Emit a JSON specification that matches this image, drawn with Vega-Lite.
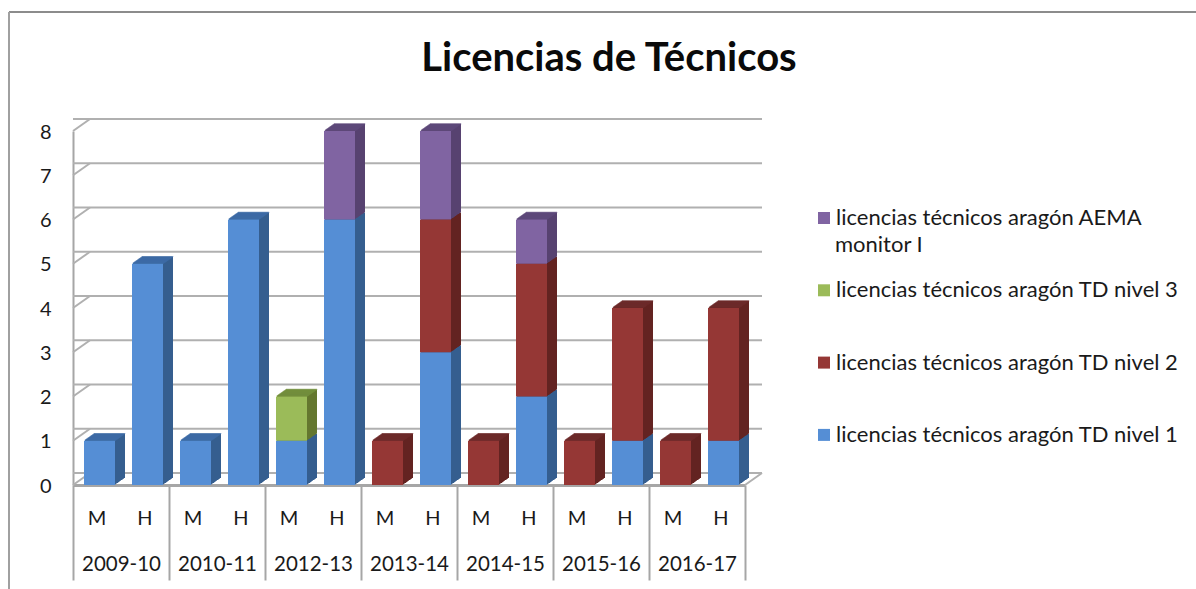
{"$schema":"https://vega.github.io/schema/vega-lite/v6.json","width":672,"height":354,"autosize":"none","padding":{"left":73,"top":131,"right":451,"bottom":104},"background":"white","config":{"view":{"stroke":null},"font":"Lato"},
"title":{"text":"Licencias de Técnicos","font":"Lato","fontSize":40,"fontWeight":"bold","color":"#0a0a0a","anchor":"middle","frame":"group","dx":200,"offset":-68},
"data":{"name":"main","values":[
{"columna":"01 M","curso":"2009-10","serie":"licencias técnicos aragón TD nivel 1","orden":1,"valor":1},
{"columna":"02 H","curso":"2009-10","serie":"licencias técnicos aragón TD nivel 1","orden":1,"valor":5},
{"columna":"03 M","curso":"2010-11","serie":"licencias técnicos aragón TD nivel 1","orden":1,"valor":1},
{"columna":"04 H","curso":"2010-11","serie":"licencias técnicos aragón TD nivel 1","orden":1,"valor":6},
{"columna":"05 M","curso":"2012-13","serie":"licencias técnicos aragón TD nivel 1","orden":1,"valor":1},
{"columna":"05 M","curso":"2012-13","serie":"licencias técnicos aragón TD nivel 3","orden":3,"valor":1},
{"columna":"06 H","curso":"2012-13","serie":"licencias técnicos aragón TD nivel 1","orden":1,"valor":6},
{"columna":"06 H","curso":"2012-13","serie":"licencias técnicos aragón AEMA monitor I","orden":4,"valor":2},
{"columna":"07 M","curso":"2013-14","serie":"licencias técnicos aragón TD nivel 2","orden":2,"valor":1},
{"columna":"08 H","curso":"2013-14","serie":"licencias técnicos aragón TD nivel 1","orden":1,"valor":3},
{"columna":"08 H","curso":"2013-14","serie":"licencias técnicos aragón TD nivel 2","orden":2,"valor":3},
{"columna":"08 H","curso":"2013-14","serie":"licencias técnicos aragón AEMA monitor I","orden":4,"valor":2},
{"columna":"09 M","curso":"2014-15","serie":"licencias técnicos aragón TD nivel 2","orden":2,"valor":1},
{"columna":"10 H","curso":"2014-15","serie":"licencias técnicos aragón TD nivel 1","orden":1,"valor":2},
{"columna":"10 H","curso":"2014-15","serie":"licencias técnicos aragón TD nivel 2","orden":2,"valor":3},
{"columna":"10 H","curso":"2014-15","serie":"licencias técnicos aragón AEMA monitor I","orden":4,"valor":1},
{"columna":"11 M","curso":"2015-16","serie":"licencias técnicos aragón TD nivel 2","orden":2,"valor":1},
{"columna":"12 H","curso":"2015-16","serie":"licencias técnicos aragón TD nivel 1","orden":1,"valor":1},
{"columna":"12 H","curso":"2015-16","serie":"licencias técnicos aragón TD nivel 2","orden":2,"valor":3},
{"columna":"13 M","curso":"2016-17","serie":"licencias técnicos aragón TD nivel 2","orden":2,"valor":1},
{"columna":"14 H","curso":"2016-17","serie":"licencias técnicos aragón TD nivel 1","orden":1,"valor":1},
{"columna":"14 H","curso":"2016-17","serie":"licencias técnicos aragón TD nivel 2","orden":2,"valor":3}
]},
"transform":[{"stack":"valor","groupby":["columna"],"sort":[{"field":"orden","order":"ascending"}],"as":["y0","y1"]},{"joinaggregate":[{"op":"max","field":"y1","as":"cima"}],"groupby":["columna"]}],
"resolve":{"scale":{"x":"independent"},"axis":{"x":"independent"}},
"layer":[
{"mark":{"type":"rule","opacity":0},"encoding":{"x":{"field":"curso","type":"nominal","scale":{"paddingInner":0,"paddingOuter":0},"axis":{"title":null,"orient":"bottom","tickBand":"extent","tickSize":95,"tickColor":"#a6a6a6","tickWidth":2,"domain":false,"labelPadding":-26,"labelAngle":0,"labelAlign":"center","labelFontSize":20.5,"labelColor":"#1a1a1a","labelBaseline":"top"}}}},
{"layer":[
{"data":{"values":[{"v":0},{"v":1},{"v":2},{"v":3},{"v":4},{"v":5},{"v":6},{"v":7},{"v":8}]},"transform":[],"mark":{"type":"rule","color":"#b0b0b0","strokeWidth":2,"xOffset":17,"yOffset":-12,"x2Offset":17,"y2Offset":-12},"encoding":{"y":{"field":"v","type":"quantitative","scale":{"domain":[0,8]},"axis":{"title":null,"values":[0,1,2,3,4,5,6,7,8],"format":"d","grid":false,"domainColor":"#a6a6a6","domainWidth":2,"tickSize":0,"labelPadding":22,"labelOffset":1,"labelFontSize":20,"labelColor":"#1a1a1a"}}}},
{"data":{"values":[{"v":0},{"v":1},{"v":2},{"v":3},{"v":4},{"v":5},{"v":6},{"v":7},{"v":8}]},"transform":[],"mark":{"type":"rule","color":"#b0b0b0","strokeWidth":2,"x2Offset":-7,"y2Offset":-12},"encoding":{"x":{"datum":"01 M","type":"nominal","bandPosition":0},"x2":{"datum":"01 M"},"y":{"field":"v","type":"quantitative"},"y2":{"field":"v"}}},
{"data":{"values":[{"v":0}]},"transform":[],"mark":{"type":"rule","color":"#b0b0b0","strokeWidth":2,"x2Offset":41,"y2Offset":-12},"encoding":{"x":{"datum":"14 H","type":"nominal","bandPosition":1},"x2":{"datum":"14 H"},"y":{"field":"v","type":"quantitative"},"y2":{"field":"v"}}},
{"data":{"values":[{"v":8}]},"transform":[],"mark":{"type":"rule","color":"#8c8c8c","strokeWidth":2,"xOffset":-64,"x2Offset":475,"yOffset":-119,"y2Offset":-119},"encoding":{"x":{"datum":"01 M","type":"nominal","bandPosition":0},"x2":{"datum":"14 H"},"y":{"field":"v","type":"quantitative"},"y2":{"field":"v"}}},
{"data":{"values":[{"v":8,"w":0}]},"transform":[],"mark":{"type":"rule","color":"#a0a0a0","strokeWidth":2,"xOffset":-64,"yOffset":-119,"y2Offset":104},"encoding":{"x":{"datum":"01 M","type":"nominal","bandPosition":0},"y":{"field":"v","type":"quantitative"},"y2":{"field":"w"}}},
{"layer":[
{"mark":{"type":"bar","size":31,"xOffset":12.5,"yOffset":-7,"y2Offset":-7}},
{"mark":{"type":"bar","size":31,"xOffset":11.5,"yOffset":-6.3,"y2Offset":-6.3}},
{"mark":{"type":"bar","size":31,"xOffset":10.5,"yOffset":-5.6,"y2Offset":-5.6}},
{"mark":{"type":"bar","size":31,"xOffset":9.5,"yOffset":-4.9,"y2Offset":-4.9}},
{"mark":{"type":"bar","size":31,"xOffset":8.5,"yOffset":-4.2,"y2Offset":-4.2}},
{"mark":{"type":"bar","size":31,"xOffset":7.5,"yOffset":-3.5,"y2Offset":-3.5}},
{"mark":{"type":"bar","size":31,"xOffset":6.5,"yOffset":-2.8,"y2Offset":-2.8}},
{"mark":{"type":"bar","size":31,"xOffset":5.5,"yOffset":-2.1,"y2Offset":-2.1}},
{"mark":{"type":"bar","size":31,"xOffset":4.5,"yOffset":-1.4,"y2Offset":-1.4}},
{"mark":{"type":"bar","size":31,"xOffset":3.5,"yOffset":-0.7,"y2Offset":-0.7}}
],"encoding":{"x":{"field":"columna","type":"nominal","scale":{"paddingInner":0,"paddingOuter":0},"axis":{"title":null,"orient":"bottom","labelExpr":"slice(datum.value,-1)","labelAngle":0,"labelAlign":"center","tickSize":0,"domainColor":"#a6a6a6","domainWidth":3,"labelPadding":23,"labelFontSize":20,"labelColor":"#1a1a1a","labelBaseline":"top"}},"y":{"field":"y0","type":"quantitative"},"y2":{"field":"y1"},"fill":{"field":"serie","type":"nominal","legend":null,"scale":{"domain":["licencias técnicos aragón TD nivel 1","licencias técnicos aragón TD nivel 2","licencias técnicos aragón TD nivel 3","licencias técnicos aragón AEMA monitor I"],"range":["#355e8f","#632321","#64772f","#574270"]}}}},
{"transform":[{"filter":"datum.y1==datum.cima"}],"layer":[
{"mark":{"type":"tick","size":31,"thickness":0.5,"strokeWidth":1,"xOffset":12.5,"yOffset":-7}},
{"mark":{"type":"tick","size":31,"thickness":0.5,"strokeWidth":1,"xOffset":11.5,"yOffset":-6.3}},
{"mark":{"type":"tick","size":31,"thickness":0.5,"strokeWidth":1,"xOffset":10.5,"yOffset":-5.6}},
{"mark":{"type":"tick","size":31,"thickness":0.5,"strokeWidth":1,"xOffset":9.5,"yOffset":-4.9}},
{"mark":{"type":"tick","size":31,"thickness":0.5,"strokeWidth":1,"xOffset":8.5,"yOffset":-4.2}},
{"mark":{"type":"tick","size":31,"thickness":0.5,"strokeWidth":1,"xOffset":7.5,"yOffset":-3.5}},
{"mark":{"type":"tick","size":31,"thickness":0.5,"strokeWidth":1,"xOffset":6.5,"yOffset":-2.8}},
{"mark":{"type":"tick","size":31,"thickness":0.5,"strokeWidth":1,"xOffset":5.5,"yOffset":-2.1}},
{"mark":{"type":"tick","size":31,"thickness":0.5,"strokeWidth":1,"xOffset":4.5,"yOffset":-1.4}},
{"mark":{"type":"tick","size":31,"thickness":0.5,"strokeWidth":1,"xOffset":3.5,"yOffset":-0.7}}
],"encoding":{"x":{"field":"columna","type":"nominal"},"y":{"field":"y1","type":"quantitative"},"stroke":{"field":"serie","type":"nominal","legend":null,"scale":{"domain":["licencias técnicos aragón TD nivel 2","licencias técnicos aragón AEMA monitor I","licencias técnicos aragón TD nivel 1","licencias técnicos aragón TD nivel 3"],"range":["#6f2a29","#604a7b","#3f6da8","#76923c"]}}}},
{"mark":{"type":"bar","size":31,"xOffset":2.5},"encoding":{"x":{"field":"columna","type":"nominal"},"y":{"field":"y0","type":"quantitative"},"y2":{"field":"y1"},"color":{"field":"serie","type":"nominal","scale":{"domain":["licencias técnicos aragón AEMA monitor I","licencias técnicos aragón TD nivel 3","licencias técnicos aragón TD nivel 2","licencias técnicos aragón TD nivel 1"],"range":["#8064a2","#9bbb59","#953735","#558ed5"]},"legend":{"title":null,"orient":"none","legendX":740,"legendY":76,"symbolType":"square","symbolSize":144,"symbolStrokeWidth":0,"symbolOpacity":1,"labelFontSize":22,"labelColor":"#1a1a1a","labelOffset":1,"labelLimit":400,"rowPadding":50.3,"labelExpr":"indexof(datum.value,'AEMA')>0?'licencias técnicos aragón AEMA':datum.value"}}}},
{"data":{"values":[{"linea":"monitor I","v":5}]},"transform":[],"mark":{"type":"text","align":"left","baseline":"middle","fontSize":22,"color":"#1a1a1a","dx":114,"dy":-18.5},"encoding":{"x":{"datum":"14 H","type":"nominal"},"y":{"field":"v","type":"quantitative"},"text":{"field":"linea"}}}
]}
]}
